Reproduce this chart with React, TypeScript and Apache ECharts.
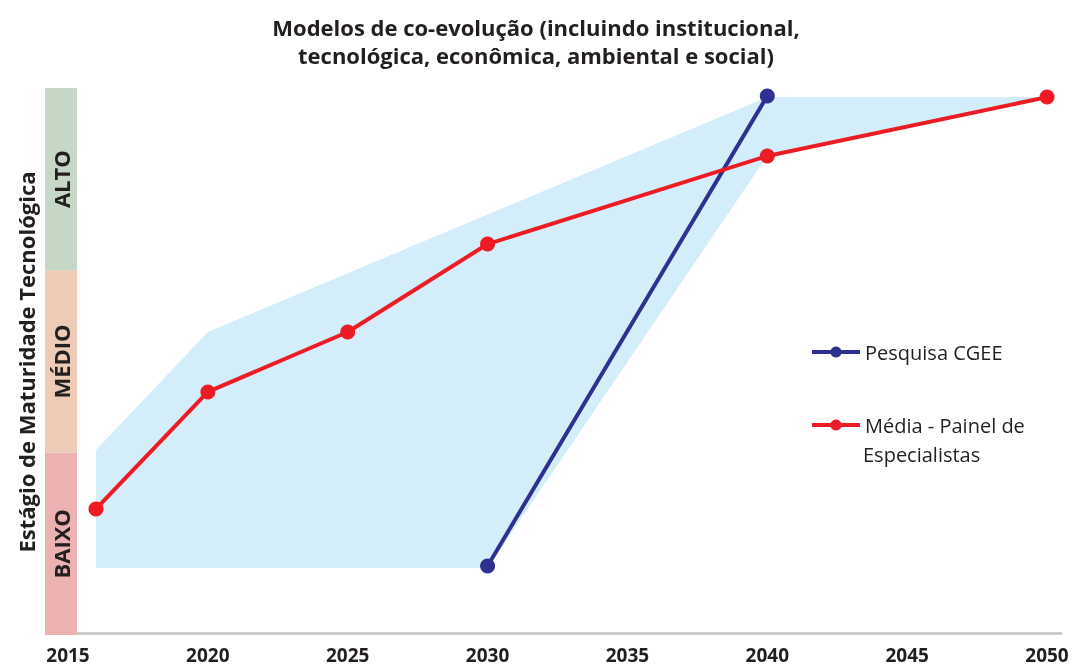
import React, { useEffect, useRef } from "react";
import * as echarts from "echarts";

const xTicks = [2015, 2020, 2025, 2030, 2035, 2040, 2045, 2050];
const mediaYears = [2016, 2020, 2025, 2030, 2040, 2050];
const mediaValues = [0.683, 1.327, 1.657, 2.141, 2.626, 2.95];
const cgeeYears = [2030, 2040];
const cgeeValues = [0.369, 2.956];
const rangeX = [2016, 2020, 2040, 2050, 2040, 2030, 2016];
const rangeY = [1.007, 1.657, 2.95, 2.95, 2.626, 0.358, 0.358];
const levels = ["BAIXO", "MÉDIO", "ALTO"];
const levelColors = ["#ecb2b1", "#edcbb7", "#c6d8c5"];

const FONT = "Open Sans";
const DARK = "#231f20";

export default function App() {
  const ref = useRef<HTMLDivElement>(null);
  useEffect(() => {
    if (!ref.current) return;
    const chart = echarts.init(ref.current, null, { renderer: "svg" });
    const bandSeries = levels.map((lv, i) => ({
      type: "bar",
      name: lv,
      xAxisIndex: 1,
      yAxisIndex: 1,
      stack: "bands",
      barWidth: "100%",
      barCategoryGap: 0,
      data: [1],
      itemStyle: { color: levelColors[i] },
      label: {
        show: true,
        position: "inside",
        rotate: 90,
        formatter: lv,
        fontFamily: FONT,
        fontWeight: "bold",
        fontSize: 22,
        color: DARK,
      },
      silent: true,
      z: 5,
    }));
    const option: any = {
      animation: false,
      title: {
        text: "Modelos de co-evolução (incluindo institucional,\ntecnológica, econômica, ambiental e social)",
        left: 531,
        textAlign: "center",
        top: 8,
        textStyle: {
          fontFamily: FONT,
          fontWeight: "bold",
          fontSize: 22,
          lineHeight: 28,
          color: DARK,
        },
      },
      grid: [
        { left: 68, right: 25, top: 88, bottom: 36 },
        { left: 45, width: 32, top: 88, bottom: 34 },
      ],
      xAxis: [
        {
          type: "value",
          min: 2015,
          max: 2050.5,
          axisLine: { show: true, lineStyle: { color: "#c2c2c6", width: 2.5 } },
          axisTick: { show: false },
          splitLine: { show: false },
          axisLabel: {
            customValues: xTicks,
            margin: 12,
            fontFamily: FONT,
            fontWeight: "bold",
            fontSize: 19,
            lineHeight: 20,
            color: DARK,
            formatter: (v: number) => String(v),
          },
        },
        {
          type: "category",
          gridIndex: 1,
          data: ["nível"],
          show: false,
        },
      ],
      yAxis: [
        { type: "value", min: 0, max: 3, show: false },
        { type: "value", gridIndex: 1, min: 0, max: 3, show: false },
      ],
      legend: {
        orient: "vertical",
        left: 810,
        top: 340,
        padding: 0,
        itemWidth: 48,
        itemHeight: 14,
        itemGap: 49,
        lineStyle: { width: 4 },
        data: ["Pesquisa CGEE", "Média - Painel de Especialistas"],
        formatter: (n: string) => (n.startsWith("Média") ? "Média - Painel de" : n),
        textStyle: {
          fontFamily: FONT,
          fontSize: 20,
          lineHeight: 24,
          color: DARK,
        },
      },
      graphic: [
        {
          type: "text",
          x: 26,
          y: 362,
          rotation: Math.PI / 2,
          style: {
            text: "Estágio de Maturidade Tecnológica",
            fontFamily: FONT,
            fontWeight: "bold",
            fontSize: 22,
            fill: DARK,
            textAlign: "center",
            textVerticalAlign: "middle",
          },
        },
        {
          type: "text",
          x: 863,
          y: 454,
          style: {
            text: "Especialistas",
            fontFamily: FONT,
            fontSize: 20,
            fill: DARK,
            textAlign: "left",
            textVerticalAlign: "middle",
          },
        },
      ],
      series: [
        {
          type: "custom",
          name: "faixa",
          silent: true,
          z: 1,
          data: rangeX.map((x, i) => [x, rangeY[i]]),
          encode: { x: 0, y: 1 },
          renderItem: (params: any, api: any) => {
            if (params.dataIndex !== 0) return null;
            const pts = rangeX.map((x, i) => api.coord([x, rangeY[i]]));
            return {
              type: "polygon",
              shape: { points: pts },
              style: { fill: "#d3eefa" },
            };
          },
        },
        {
          type: "line",
          name: "Pesquisa CGEE",
          data: cgeeYears.map((x, i) => [x, cgeeValues[i]]),
          symbol: "circle",
          symbolSize: 15,
          lineStyle: { color: "#2e3192", width: 4 },
          itemStyle: { color: "#2e3192" },
          z: 3,
        },
        {
          type: "line",
          name: "Média - Painel de Especialistas",
          data: mediaYears.map((x, i) => [x, mediaValues[i]]),
          symbol: "circle",
          symbolSize: 15,
          lineStyle: { color: "#ed1c24", width: 4 },
          itemStyle: { color: "#ed1c24" },
          z: 4,
        },
        ...bandSeries,
      ],
    };
    chart.setOption(option);
    return () => chart.dispose();
  }, []);
  return (
    <div
      ref={ref}
      style={{ position: "fixed", left: 0, top: 0, width: 1086, height: 669 }}
    />
  );
}
